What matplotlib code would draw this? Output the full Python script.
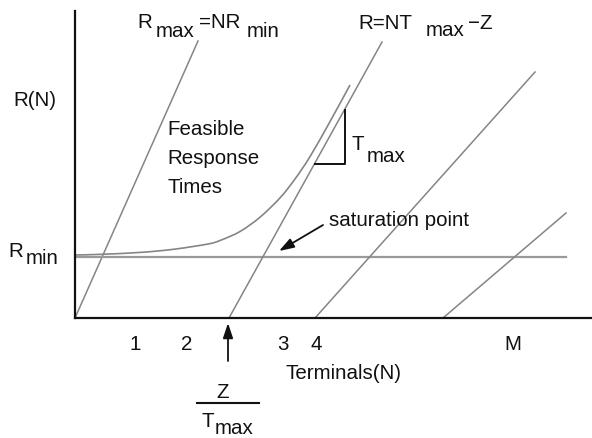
import matplotlib
matplotlib.use("Agg")
import matplotlib.pyplot as plt
from matplotlib.path import Path
from matplotlib.patches import PathPatch

# Data (chart units: x = terminals axis units, y = response axis units)
rmax_x = [0, 123]
rmax_y = [0, 277]
rmin_x = [0, 491]
rmin_y = [61, 61]
curve_x = [0, 27, 67, 100, 133, 145, 165, 185, 205, 220, 235, 255, 275]
curve_y = [63, 63.7, 65.7, 68.9, 74, 77.5, 86.5, 100.8, 120.1, 139, 161.4, 196.4, 233]
rz_x = [154, 307]
rz_y = [0, 276]
line3_x = [240, 460]
line3_y = [0, 246]
line4_x = [368, 491]
line4_y = [0, 105]
tick_pos = [60, 112, 208, 241, 438]
tick_labels = ["1", "2", "3", "4", "M"]

W, H = 592, 438
fig = plt.figure(figsize=(W / 100, H / 100), dpi=100)
X0, Y0 = 75, 318
ax = fig.add_axes([X0 / W, (H - Y0) / H, (W - X0) / W, (Y0 - 11) / H])
ax.set_xlim(0, W - X0)
ax.set_ylim(0, Y0 - 11)
for s in ["top", "right"]:
    ax.spines[s].set_visible(False)
for s in ["left", "bottom"]:
    ax.spines[s].set_linewidth(1.6)
    ax.spines[s].set_color("#111111")
ax.set_xticks([])
ax.set_yticks([])

FONT = "Liberation Sans"
FS = 14.8
gray = "#858585"

def px(x, y):
    return x - X0, Y0 - y

def txt(x, y, s, **kw):
    dx, dy = px(x, y)
    ax.text(dx, dy, s, fontsize=FS, family=FONT, va="baseline", ha=kw.pop("ha", "left"),
            clip_on=False, color="#111111", **kw)

ax.plot(rmax_x, rmax_y, color=gray, lw=1.1)
ax.plot(rmin_x, rmin_y, color="#9a9a9a", lw=1.6)

# smooth curve through the read points (Catmull-Rom -> cubic Bezier)
pts = list(zip(curve_x, curve_y))
verts = [pts[0]]
codes = [Path.MOVETO]
n = len(pts)
for i in range(n - 1):
    p0 = pts[i - 1] if i > 0 else pts[i]
    p1 = pts[i]
    p2 = pts[i + 1]
    p3 = pts[i + 2] if i + 2 < n else pts[i + 1]
    c1 = (p1[0] + (p2[0] - p0[0]) / 6, p1[1] + (p2[1] - p0[1]) / 6)
    c2 = (p2[0] - (p3[0] - p1[0]) / 6, p2[1] - (p3[1] - p1[1]) / 6)
    verts += [c1, c2, p2]
    codes += [Path.CURVE4] * 3
ax.add_patch(PathPatch(Path(verts, codes), fill=False, edgecolor=gray, lw=1.2))

ax.plot(rz_x, rz_y, color=gray, lw=1.1)
ax.plot(line3_x, line3_y, color=gray, lw=1.1)
ax.plot(line4_x, line4_y, color=gray, lw=1.1)

# slope triangle
tx, ty = px(345, 110)
bx, by = px(345, 164)
lx, ly = px(315, 164)
ax.plot([tx, bx, lx], [ty, by, ly], color="#111111", lw=1.4)

# tick labels
for p, lab in zip(tick_pos, tick_labels):
    ax.text(p, Y0 - 350, lab, fontsize=FS, family=FONT, ha="center", va="baseline",
            clip_on=False, color="#111111")

txt(285, 379, "Terminals(N)")
txt(13, 106, "R(N)")
txt(8, 257, "R")
txt(26, 264, "min")
txt(137, 28, "R")
txt(156, 37, "max")
txt(199, 28, "=NR")
txt(247, 37, "min")
txt(358, 29, "R=NT")
txt(426, 36, "max")
txt(468, 29, "\u2212Z")
txt(167, 135, "Feasible")
txt(167, 164, "Response")
txt(167, 193, "Times")
txt(352, 150, "T")
txt(367, 162, "max")
txt(329, 226, "saturation point")
txt(223, 398, "Z", ha="center")
txt(201, 427, "T")
txt(215, 434, "max")
fx0, fy = px(197, 403)
fx1, _ = px(259, 403)
ax.plot([fx0, fx1], [fy, fy], color="#111111", lw=1.5, clip_on=False)

ax.annotate("", xy=px(279, 251), xytext=px(323, 225),
            arrowprops=dict(arrowstyle="-|>,head_length=0.9,head_width=0.3", color="#111111", lw=1.3,
                            shrinkA=0, shrinkB=0), annotation_clip=False)
ax.annotate("", xy=px(228, 323), xytext=px(228, 361),
            arrowprops=dict(arrowstyle="-|>,head_length=0.9,head_width=0.3", color="#111111", lw=1.3,
                            shrinkA=0, shrinkB=0), annotation_clip=False)

fig.savefig("out.png", dpi=100)
